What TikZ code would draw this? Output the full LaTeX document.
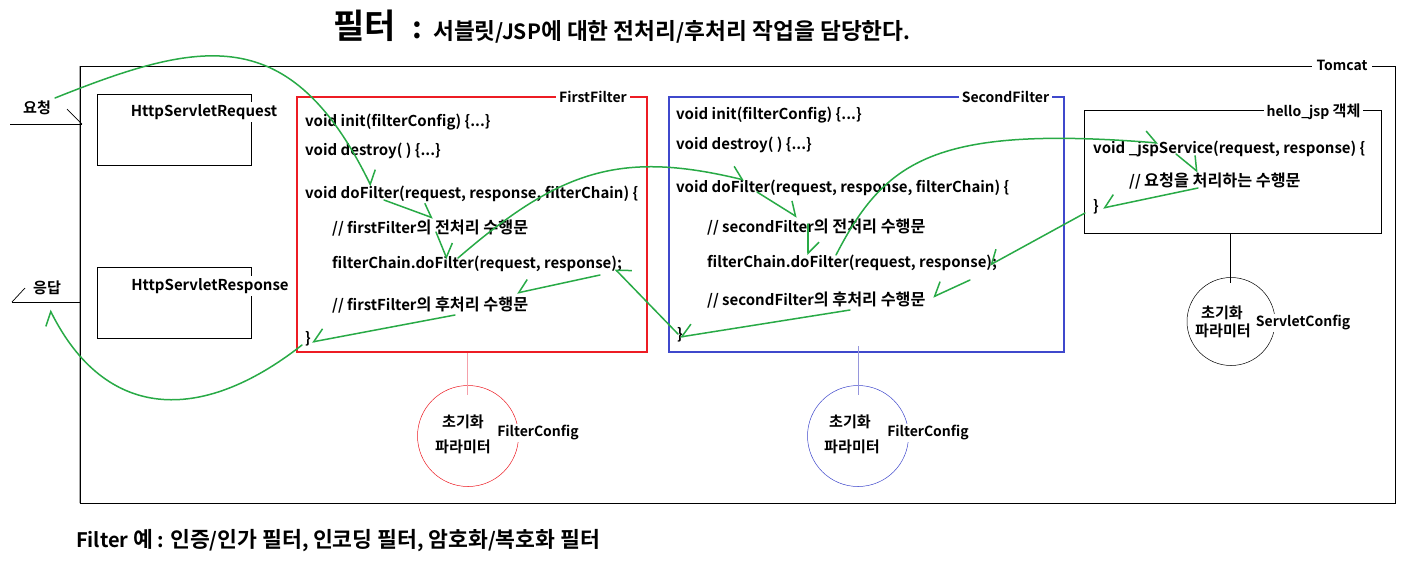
\documentclass[tikz,border=0pt]{standalone}
\usepackage{fontspec}
\setmainfont{Noto Sans CJK KR}[BoldFont={Noto Sans CJK KR Bold}]
\newfontfamily\krf{Noto Sans CJK KR}[BoldFont={Noto Sans CJK KR Bold},Scale=1.08]
\newcommand\K[1]{{\krf\bfseries #1}}
\usetikzlibrary{arrows.meta}
\definecolor{grn}{RGB}{40,170,70}
\definecolor{redbox}{RGB}{237,28,36}
\definecolor{bluebox}{RGB}{63,72,204}
\definecolor{pinkline}{RGB}{245,160,170}
\definecolor{lblue}{RGB}{150,150,220}
\definecolor{frgray}{RGB}{170,170,170}
\begin{document}
\begin{tikzpicture}[x=1pt,y=-1pt,
  font=\bfseries\fontsize{14}{16}\selectfont,
  code/.style={anchor=west, inner sep=0pt, font=\bfseries\fontsize{15}{18}\selectfont},
  lbl/.style={fill=white, inner sep=3pt},
  flow/.style={draw=grn, line width=1.5pt, line cap=round},
  hl/.style={flow, -{Straight Barb[left,length=11pt,width=22pt]}},
  hr/.style={flow, -{Straight Barb[right,length=11pt,width=22pt]}},
  sbox/.style={draw, line width=0.8pt, inner sep=0pt},
  cfg/.style={fill=white, inner sep=2pt},
]
\useasboundingbox (0,0) rectangle (1410,566);
\fill[white] (0,0) rectangle (1410,566);

% title
\node[inner sep=0pt, font=\bfseries\fontsize{34}{40}\selectfont] (t1) at (364.5,26) {필터};
\node[inner sep=0pt, font=\bfseries\fontsize{30}{34}\selectfont] (t2) at (417,30) {:};
\node[code, font=\bfseries\fontsize{21}{24}\selectfont] (t3) at (433,32) {\K{서블릿}/JSP\K{에 대한 전처리}/\K{후처리 작업을 담당한다}.};

% Tomcat frame
\node[draw, line width=0.8pt, minimum width=1315pt, minimum height=437pt, inner sep=0pt] (tc) at (737.5,284.5) {};
\draw[frgray, line width=1.6pt] (tc.north west) -- (tc.south west);
\draw[line width=1.4pt] (tc.south west) -- (tc.south east);
\node[lbl, inner sep=5pt] (tcl) at (1342,65) {Tomcat};

% request / response
\node[inner sep=0pt] (yo) at (37,108) {\K{요청}};
\coordinate (yoA) at (10,124);
\coordinate (yoB) at (82,124);
\coordinate (yoC) at (67,109);
\draw[line width=0.7pt] (yoA) -- (yoB);
\draw[line width=0.7pt] (yoC) -- (yoB);
\node[inner sep=0pt] (ed) at (47,288) {\K{응답}};
\coordinate (edA) at (12,302);
\coordinate (edB) at (80,302);
\coordinate (edC) at (25,288);
\draw[line width=0.7pt] (edA) -- (edB);
\draw[line width=0.7pt] (edA) -- (edC);

\node[sbox, minimum width=154pt, minimum height=71pt] (req) at (174,129.5) {};
\node[fill=white, inner sep=2pt, font=\bfseries\fontsize{15}{18}\selectfont] (reqt) at (204,112) {HttpServletRequest};
\node[sbox, minimum width=154pt, minimum height=71pt] (res) at (174,302.5) {};
\node[fill=white, inner sep=2pt, font=\bfseries\fontsize{15}{18}\selectfont] (rest) at (210,286) {HttpServletResponse};

% FirstFilter
\node[draw=redbox, line width=1.6pt, minimum width=350pt, minimum height=255pt, inner sep=0pt] (f1) at (472,224.5) {};
\node[lbl] (f1l) at (593,97) {FirstFilter};
\node[code] (f1a) at (305,122) {void init(filterConfig) \{...\}};
\node[code] (f1b) at (305,151) {void destroy( ) \{...\}};
\node[code] (f1c) at (305,194) {void doFilter(request, response, filterChain) \{};
\node[code] (f1d) at (332,228) {// firstFilter\K{의 전처리 수행문}};
\node[code] (f1e) at (332,264) {filterChain.doFilter(request, response);};
\node[code] (f1f) at (332,305) {// firstFilter\K{의 후처리 수행문}};
\node[code] (f1g) at (305,339) {\}};

% SecondFilter
\node[draw=bluebox, line width=1.6pt, minimum width=395pt, minimum height=255pt, inner sep=0pt] (f2) at (866.5,224.5) {};
\node[lbl] (f2l) at (1005.5,97) {SecondFilter};
\node[code] (f2a) at (676,115) {void init(filterConfig) \{...\}};
\node[code] (f2b) at (676,145) {void destroy( ) \{...\}};
\node[code] (f2c) at (676,188) {void doFilter(request, response, filterChain) \{};
\node[code] (f2d) at (707,227) {// secondFilter\K{의 전처리 수행문}};
\node[code] (f2e) at (707,263) {filterChain.doFilter(request, response);};
\node[code] (f2f) at (707,300) {// secondFilter\K{의 후처리 수행문}};
\node[code] (f2g) at (677,335) {\}};

% hello_jsp
\node[draw, line width=0.8pt, minimum width=297pt, minimum height=123pt, inner sep=0pt] (hj) at (1232.5,171.5) {};
\node[lbl] (hjl) at (1313.5,112) {hello\_jsp \K{객체}};
\node[code] (hja) at (1093,149) {void \_jspService(request, response) \{};
\node[code] (hjb) at (1129,181) {// \K{요청을 처리하는 수행문}};
\node[code] (hjc) at (1093,207) {\}};

% config circles
\node[draw=redbox, line width=0.5pt, circle, minimum size=101pt, inner sep=0pt] (c1) at (468,436) {};
\draw[pinkline, line width=1pt] (f1.south -| 467,0) -- (467,395);
\node[inner sep=0pt] (c1a) at (463,422) {\K{초기화}};
\node[inner sep=0pt] (c1b) at (463,447) {\K{파라미터}};
\node[cfg] (c1c) at (538,433) {FilterConfig};

\node[draw=bluebox, line width=0.5pt, circle, minimum size=101pt, inner sep=0pt] (c2) at (858,436) {};
\draw[lblue, line width=1pt] (858,346) -- (858,395);
\node[inner sep=0pt] (c2a) at (850,422) {\K{초기화}};
\node[inner sep=0pt] (c2b) at (852,447) {\K{파라미터}};
\node[cfg] (c2c) at (928,433) {FilterConfig};

\node[draw, line width=0.5pt, circle, minimum size=88pt, inner sep=0pt] (c3) at (1231,321.5) {};
\draw[line width=0.6pt] (hj.south -| 1230,0) -- (1230,283);
\node[inner sep=0pt] (c3a) at (1222,313) {\K{초기화}};
\node[inner sep=0pt] (c3b) at (1223,331) {\K{파라미터}};
\node[cfg] (c3c) at (1303,323) {ServletConfig};

% flow arrows
\coordinate (p1s) at (55,98);   \coordinate (p1e) at (371,186);
\coordinate (p2s) at (384,200); \coordinate (p2e) at (433,218);
\coordinate (p3s) at (436,232); \coordinate (p3e) at (447,259);
\coordinate (p4s) at (458,258); \coordinate (p4e) at (744,180);
\coordinate (p5s) at (757,192); \coordinate (p5e) at (797,217);
\coordinate (p6s) at (808,224); \coordinate (p6e) at (808,255);
\coordinate (p7s) at (836,255); \coordinate (p7e) at (1158,143);
\coordinate (p8s) at (1176,154); \coordinate (p8e) at (1198,172);
\coordinate (p9s) at (1198,188); \coordinate (p9e) at (1103,208);
\coordinate (p10s) at (1085,213); \coordinate (p10e) at (990,265);
\coordinate (p11s) at (970,280); \coordinate (p11e) at (933,297);
\coordinate (p12s) at (850,310); \coordinate (p12e) at (680,337);
\coordinate (p13s) at (678,334); \coordinate (p13e) at (615,269);
\coordinate (p14s) at (600,275); \coordinate (p14e) at (517,293);
\coordinate (p15s) at (455,315); \coordinate (p15e) at (312,342);
\coordinate (p16s) at (302,345); \coordinate (p16e) at (50,310);

\draw[hl] (p1s) .. controls (200,40) and (290,20) .. (p1e);
\draw[hl] (p2s) -- (p2e);
\draw[hl] (p3s) -- (p3e);
\draw[hl] (p4s) .. controls (560,170) and (620,150) .. (p4e);
\draw[hl] (p5s) -- (p5e);
\draw[hl] (p6s) -- (p6e);
\draw[hl] (p7s) .. controls (885,160) and (935,125) .. (p7e);
\draw[hl] (p8s) -- (p8e);
\draw[hr] (p9s) -- (p9e);
\draw[hr] (p10s) -- (p10e);
\draw[hr] (p11s) -- (p11e);
\draw[hr] (p12s) -- (p12e);
\draw[hr] (p13s) -- (p13e);
\draw[hr] (p14s) -- (p14e);
\draw[hr] (p15s) -- (p15e);
\draw[hl] (p16s) .. controls (200,425) and (105,420) .. (p16e);

% bottom note
\node[code, font=\bfseries\fontsize{20}{22}\selectfont] (note) at (76,541) {Filter \K{예} : \K{인증}/\K{인가 필터}, \K{인코딩 필터}, \K{암호화}/\K{복호화 필터}};
\end{tikzpicture}
\end{document}
